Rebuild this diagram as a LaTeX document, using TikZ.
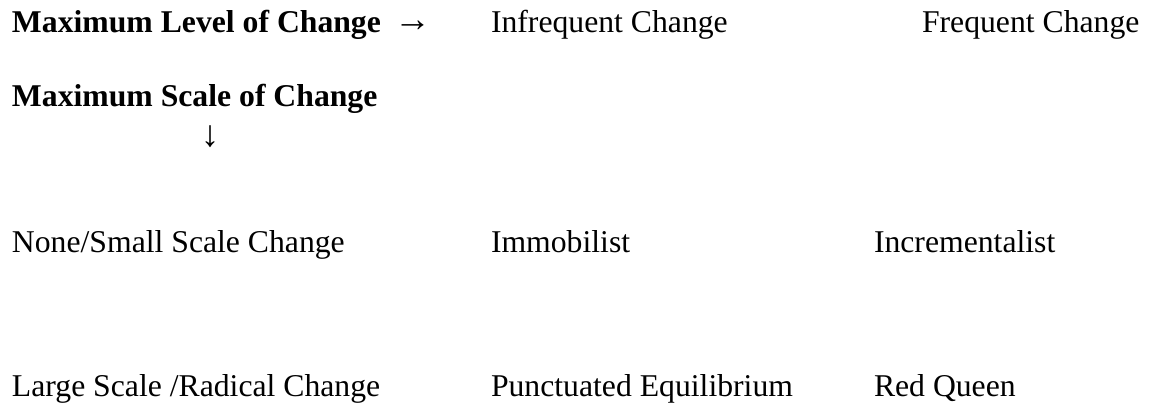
\documentclass[tikz,border=0pt]{standalone}
\usepackage{fontspec}
\setmainfont{Liberation Serif}
\begin{document}
\begin{tikzpicture}[x=1pt,y=1pt,
  lbl/.style={anchor=base west,inner sep=0pt,outer sep=0pt,font=\fontsize{31.7}{38}\selectfont},
  hdr/.style={lbl,font=\fontsize{31.7}{38}\selectfont\bfseries},
  arr/.style={inner sep=0pt,outer sep=0pt,font=\fontsize{37}{44}\selectfont}]
\useasboundingbox (0,0) rectangle (1151,409);
% header row
\node[hdr] (lvl) at (12,{409-33}) {Maximum Level of Change};
\node[arr,anchor=base west] (rarr) at (394,{409-32}) {→};
\node[lbl] (infreq) at (491,{409-33}) {Infrequent Change};
\node[lbl] (freq) at (922,{409-33}) {Frequent Change};
% scale header
\node[hdr] (scl) at (12,{409-107}) {Maximum Scale of Change};
\node[arr,anchor=base] (darr) at (210,{409-147}) {↓};
% row 1
\node[lbl] (small) at (12,{409-253}) {None/Small Scale Change};
\node[lbl] (immob) at (491,{409-253}) {Immobilist};
\node[lbl] (incr) at (874,{409-253}) {Incrementalist};
% row 2
\node[lbl] (large) at (12,{409-397}) {Large Scale /Radical Change};
\node[lbl] (punct) at (491,{409-397}) {Punctuated Equilibrium};
\node[lbl] (red) at (874,{409-397}) {Red Queen};
\end{tikzpicture}
\end{document}
